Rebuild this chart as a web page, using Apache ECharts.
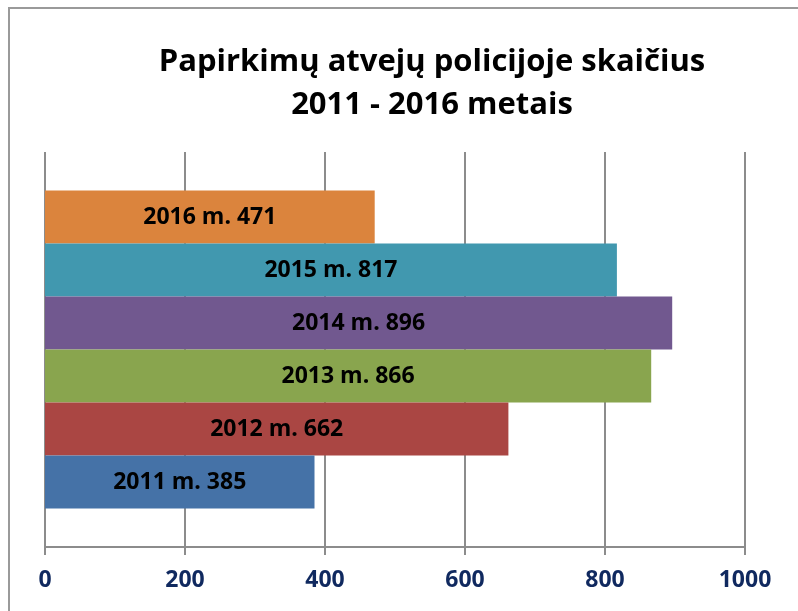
<!DOCTYPE html>
<html>
<head>
<meta charset="utf-8">
<script src="https://cdn.jsdelivr.net/npm/echarts@6/dist/echarts.min.js"></script>
<style>
  html, body { margin: 0; padding: 0; background: #fff; }
</style>
</head>
<body>
<div id="chart" style="width: 798px; height: 611px;"></div>
<script>
// metai ir papirkimų atvejai
const years = ['2011', '2012', '2013', '2014', '2015', '2016'];
const cases = [385, 662, 866, 896, 817, 471];
const barColors = ['#4572A7', '#AA4643', '#89A54E', '#71588F', '#4198AF', '#DB843D'];
const xTicks = [0, 200, 400, 600, 800, 1000];

const chart = echarts.init(document.getElementById('chart'));

// pirmoji serija piešiama viršuje, todėl einam nuo 2016
const series = years.map((y, i) => ({
  name: y,
  type: 'bar',
  data: [cases[i]],
  barGap: '0%',
  barCategoryGap: '19.5%',
  itemStyle: { color: barColors[i] },
  label: {
    show: true,
    position: 'inside',
    formatter: y + ' m. ' + cases[i],
    color: '#000',
    fontFamily: 'Open Sans',
    fontWeight: 'bold',
    fontSize: 23
  }
})).reverse();

const option = {
  animation: false,
  backgroundColor: '#fff',
  title: {
    text: 'Papirkimų atvejų policijoje skaičius\n2011 - 2016 metais',
    left: 427,
    textAlign: 'center',
    top: 36,
    textStyle: {
      fontFamily: 'Open Sans',
      fontWeight: 'bold',
      fontSize: 31,
      lineHeight: 43,
      color: '#000'
    }
  },
  graphic: [{
    type: 'rect',
    shape: { x: 9, y: 8, width: 900, height: 700 },
    style: { fill: 'none', stroke: '#9a9a9a', lineWidth: 2 },
    silent: true
  }],
  grid: { left: 45, right: 53, top: 152, bottom: 64 },
  xAxis: {
    type: 'value',
    min: 0,
    max: 1000,
    interval: 200,
    axisLine: { show: true, lineStyle: { color: '#8c8c8c', width: 2 } },
    axisTick: { show: true, length: 8, lineStyle: { color: '#8c8c8c', width: 2 } },
    splitLine: { lineStyle: { color: '#8c8c8c', width: 2 } },
    axisLabel: {
      margin: 22,
      color: '#10295F',
      fontFamily: 'Open Sans',
      fontWeight: 'bold',
      fontSize: 23,
      formatter: v => xTicks.includes(v) ? String(v) : ''
    }
  },
  yAxis: {
    type: 'category',
    data: [''],
    axisLine: { show: false },
    axisTick: { show: false },
    axisLabel: { show: false }
  },
  series: series
};

chart.setOption(option);
</script>
</body>
</html>
